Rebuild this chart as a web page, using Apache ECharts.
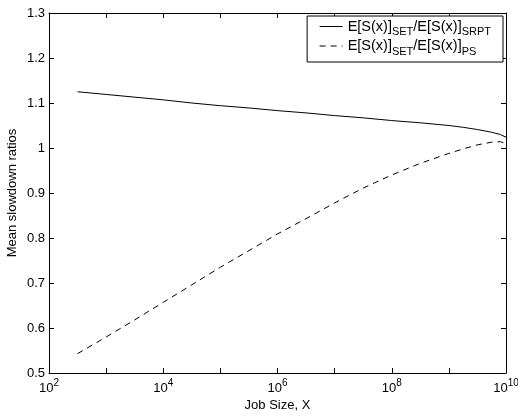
<!DOCTYPE html>
<html>
<head>
<meta charset="utf-8">
<script src="https://cdn.jsdelivr.net/npm/echarts@6/dist/echarts.min.js"></script>
<style>html,body{margin:0;padding:0;background:#fff}#c{width:518px;height:417px}</style>
</head>
<body>
<div id="c"></div>
<script>
const jobSize = [316, 1000, 3162, 10000, 31623, 100000, 316228, 1000000, 3162278, 10000000, 31622777, 100000000, 316227766, 1000000000, 1778279410, 3162277660, 5623413252, 7943282347, 10000000000];
const ratioSRPT = [1.125, 1.119, 1.113, 1.107, 1.100, 1.094, 1.089, 1.083, 1.078, 1.072, 1.067, 1.061, 1.056, 1.050, 1.046, 1.041, 1.035, 1.030, 1.024];
const ratioPS = [0.543, 0.580, 0.618, 0.657, 0.696, 0.735, 0.772, 0.809, 0.843, 0.878, 0.911, 0.940, 0.966, 0.988, 0.998, 1.007, 1.013, 1.014, 1.010];
const seriesNames = ['SRPT', 'PS'];
const xTitle = 'Job Size, X';
const yTitle = 'Mean slowdown ratios';

const FONT = '"Liberation Sans", Arial, Helvetica, sans-serif';
const chart = echarts.init(document.getElementById('c'), null, {renderer: 'canvas'});

function pairs(xs, ys) { return xs.map((x, i) => [x, ys[i]]); }

const axisCommon = {
  axisLine: {show: true, onZero: false, lineStyle: {color: '#000', width: 1}},
  axisTick: {show: true, inside: true, length: 5, lineStyle: {color: '#000', width: 1}},
  splitLine: {show: false}
};

chart.setOption({
  animation: false,
  backgroundColor: '#fff',
  textStyle: {fontFamily: FONT},
  grid: {left: 49, right: 12, top: 13, bottom: 44, containLabel: false, outerBoundsMode: 'none'},
  legend: {
    orient: 'vertical',
    right: 15, top: 16,
    padding: [3, 12, 5, 12],
    itemGap: 1,
    itemWidth: 23, itemHeight: 14,
    backgroundColor: '#fff',
    borderColor: '#000', borderWidth: 1,
    selectedMode: false,
    itemStyle: {opacity: 0},
    lineStyle: {width: 1},
    data: seriesNames,
    formatter: function (name) {
      return '{m|E[S(x)]}{s|SET}{m|/E[S(x)]}{s|' + name + '}';
    },
    textStyle: {
      fontFamily: FONT, color: '#000', fontSize: 14.5,
      rich: {
        m: {fontFamily: FONT, fontSize: 14.5, color: '#000'},
        s: {fontFamily: FONT, fontSize: 11, color: '#000', padding: [11, 0, 0, 0]}
      }
    }
  },
  xAxis: [
    Object.assign({}, axisCommon, {
      type: 'log', logBase: 10, min: 100, max: 10000000000, position: 'bottom',
      name: xTitle, nameLocation: 'middle', nameGap: 26, nameMoveOverlap: false,
      nameTextStyle: {fontFamily: FONT, fontSize: 13, color: '#000'},
      axisLabel: {
        show: true, margin: 5, color: '#000',
        formatter: function (v) {
          const n = Math.round(Math.log10(v));
          if (n % 2 !== 0) return '';
          return '{b|10}{e|' + n + '}';
        },
        rich: {
          b: {fontFamily: FONT, fontSize: 13, color: '#000', verticalAlign: 'bottom'},
          e: {fontFamily: FONT, fontSize: 10, color: '#000', padding: [0, 0, 7, 0]}
        }
      }
    }),
    Object.assign({}, axisCommon, {
      type: 'log', logBase: 10, min: 100, max: 10000000000, position: 'top',
      axisLabel: {show: false}
    })
  ],
  yAxis: [
    Object.assign({}, axisCommon, {
      type: 'value', min: 0.5, max: 1.3, interval: 0.1, position: 'left',
      name: yTitle, nameLocation: 'middle', nameGap: 30, nameMoveOverlap: false,
      nameTextStyle: {fontFamily: FONT, fontSize: 13, color: '#000'},
      axisLabel: {show: true, margin: 4, fontFamily: FONT, fontSize: 13, color: '#000'}
    }),
    Object.assign({}, axisCommon, {
      type: 'value', min: 0.5, max: 1.3, interval: 0.1, position: 'right',
      axisLabel: {show: false}
    })
  ],
  series: [
    {
      name: seriesNames[0], type: 'line', xAxisIndex: 0, yAxisIndex: 0,
      data: pairs(jobSize, ratioSRPT), symbol: 'none', showSymbol: false,
      lineStyle: {color: '#000', width: 1, type: 'solid'},
      itemStyle: {color: '#000'}
    },
    {
      name: seriesNames[1], type: 'line', xAxisIndex: 0, yAxisIndex: 0,
      data: pairs(jobSize, ratioPS), symbol: 'none', showSymbol: false,
      lineStyle: {color: '#000', width: 1, type: [6, 5]},
      itemStyle: {color: '#000'}
    }
  ]
});
</script>
</body>
</html>
